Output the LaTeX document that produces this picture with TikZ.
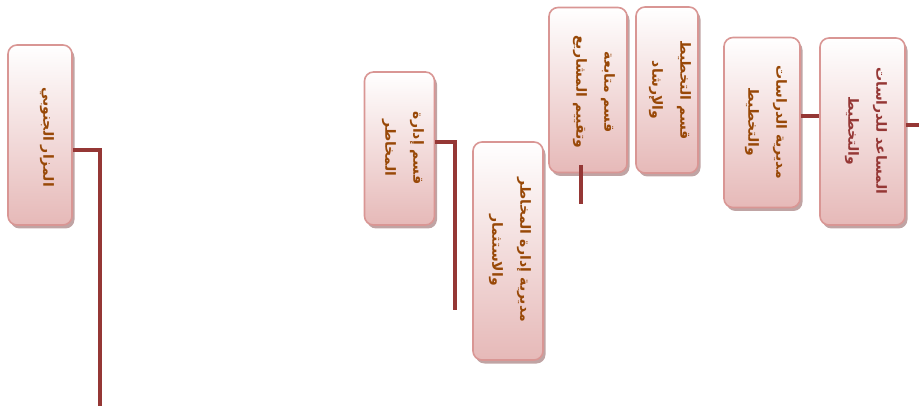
\documentclass[tikz,border=0pt]{standalone}
\usepackage{fontspec}
\usetikzlibrary{shadows}
\TeXXeTstate=1
\newfontfamily\arabicfont[Script=Arabic]{DejaVu Sans}
\definecolor{boxborder}{HTML}{D99694}
\definecolor{boxbottom}{HTML}{E6B9B8}
\definecolor{boxshadow}{HTML}{B99A9A}
\definecolor{txtbrown}{HTML}{984807}
\definecolor{txtred}{HTML}{953735}
\definecolor{connred}{HTML}{953735}
\tikzset{
  orgbox/.style={draw=boxborder, line width=1.6pt, rounded corners=9pt,
    top color=white, bottom color=boxbottom,
    drop shadow={shadow xshift=2.5pt, shadow yshift=-3.5pt, fill=boxshadow, opacity=0.9},
    inner sep=0pt},
  orgtext/.style={rotate=-90, align=center, text=txtbrown, font=\arabicfont\bfseries\fontsize{14}{28}\selectfont, inner sep=0pt},
  conn/.style={draw=connred, line width=4pt}
}
\begin{document}
\begin{tikzpicture}[x=1pt,y=-1pt]
\useasboundingbox (0,0) rectangle (919,406);
\coordinate (aEnd) at (100,410);
\coordinate (bEnd) at (455,310);
\coordinate (dEnd) at (581,204);
\coordinate (gEnd) at (925,125);

\node[orgbox, minimum width=64pt, minimum height=180pt] (A) at (40,135) {};
\node[orgbox, minimum width=70pt, minimum height=153pt] (B) at (399.5,148.5) {};
\node[orgbox, minimum width=70pt, minimum height=218pt] (C) at (508,251) {};
\node[orgbox, minimum width=78pt, minimum height=165pt] (D) at (588,90) {};
\node[orgbox, minimum width=62pt, minimum height=166pt] (E) at (667,90) {};
\node[orgbox, minimum width=76pt, minimum height=170pt] (F) at (762,122.5) {};
\node[orgbox, minimum width=85pt, minimum height=187pt] (G) at (862.5,131.5) {};

\node[orgtext] (At) at (47,137) {\beginR المزار الجنوبي\endR};
\node[orgtext] (Bt) at (403,148) {\beginR قسم إدارة\endR\\\beginR المخاطر\endR};
\node[orgtext] (Ct) at (510,250) {\beginR مديرية إدارة المخاطر\endR\\\beginR والاستثمار\endR};
\node[orgtext] (Dt) at (594,92) {\beginR قسم متابعة\endR\\\beginR وتقييم المشاريع\endR};
\node[orgtext] (Et) at (670,90) {\beginR قسم التخطيط\endR\\\beginR والإرشاد\endR};
\node[orgtext] (Ft) at (766,122) {\beginR مديرية الدراسات\endR\\\beginR والتخطيط\endR};
\node[orgtext, text=txtred] (Gt) at (866,131) {\beginR المساعد للدراسات\endR\\\beginR والتخطيط\endR};

\draw[conn] ([yshift=-15pt]A.east) -| (aEnd);
\draw[conn] ([yshift=6.5pt]B.east) -| (bEnd);
\draw[conn] ([xshift=-7pt,yshift=8.5pt]D.south) -- (dEnd);
\draw[conn] ([yshift=6.5pt]F.east) -- ([yshift=6.5pt]F.east -| G.west);
\draw[conn] ([yshift=6.5pt]G.east) -- (gEnd);
\end{tikzpicture}
\end{document}
